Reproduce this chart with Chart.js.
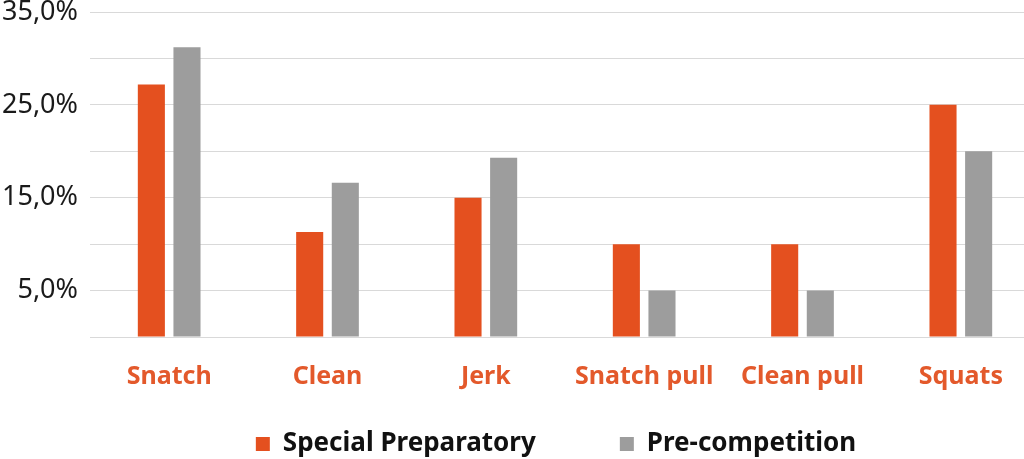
<!DOCTYPE html>
<html>
<head>
<meta charset="utf-8">
<script src="https://cdn.jsdelivr.net/npm/chart.js@4"></script>
<style>
  html, body { margin: 0; padding: 0; background: #fff; overflow: hidden; }
  #wrap { width: 1040px; height: 459px; }
</style>
</head>
<body>
<div id="wrap"><canvas id="chart"></canvas></div>
<script>
const categories = ["Snatch", "Clean", "Jerk", "Snatch pull", "Clean pull", "Squats"];
const specialPrep = [27.2, 11.3, 15.0, 10.0, 10.0, 25.0];
const preComp = [31.2, 16.6, 19.3, 5.0, 5.0, 20.0];
const labeledTicks = [5, 15, 25, 35];

const FONT = "'Noto Sans', sans-serif";
const ORANGE = "#e4501f";
const GRAY = "#9d9d9d";

// wide gap between legend items, but keep the legend row short and shifted right
const legendTweak = {
  id: "legendTweak",
  beforeLayout(chart) {
    const lg = chart.legend;
    if (lg && !lg._tweaked) {
      const fit = lg.fit;
      lg.fit = function () { fit.call(this); this.height = 44; };
      lg._tweaked = true;
    }
  },
  afterLayout(chart) {
    const lg = chart.legend;
    const pad = lg.options.labels.padding;
    lg.top += 16 - pad;
    lg.left += 36;
    lg.right += 36;
  },
};

new Chart(document.getElementById("chart").getContext("2d"), {
  type: "bar",
  data: {
    labels: categories,
    datasets: [
      { label: "Special Preparatory", data: specialPrep, backgroundColor: ORANGE },
      { label: "Pre-competition", data: preComp, backgroundColor: GRAY },
    ],
  },
  options: {
    responsive: true,
    maintainAspectRatio: false,
    animation: false,
    categoryPercentage: 0.45,
    barPercentage: 0.76,
    layout: { padding: { top: 12, right: 0, left: 0, bottom: 0 } },
    plugins: {
      tooltip: { enabled: false },
      legend: {
        position: "bottom",
        labels: {
          boxWidth: 14,
          boxHeight: 14,
          padding: 84,
          color: "#111",
          font: { family: FONT, size: 26, weight: "bold" },
        },
      },
    },
    scales: {
      x: {
        grid: { display: false, drawTicks: false },
        border: { display: true, color: "#d9d9d9" },
        ticks: {
          padding: 25,
          color: "#e3592b",
          font: { family: FONT, size: 25, weight: "bold" },
        },
        afterFit: (s) => { s.height = 78; },
      },
      y: {
        min: 0,
        max: 35,
        grid: { color: "#d9d9d9", drawTicks: false },
        border: { display: false },
        ticks: {
          stepSize: 5,
          padding: 12,
          color: "#1a1a1a",
          font: { family: FONT, size: 27 },
          callback: (v) => (labeledTicks.includes(v) ? v.toFixed(1).replace(".", ",") + "%" : ""),
        },
        afterFit: (s) => { s.width = 90; s.paddingTop = 0; s.paddingBottom = 0; },
      },
    },
  },
  plugins: [legendTweak],
});
</script>
</body>
</html>
